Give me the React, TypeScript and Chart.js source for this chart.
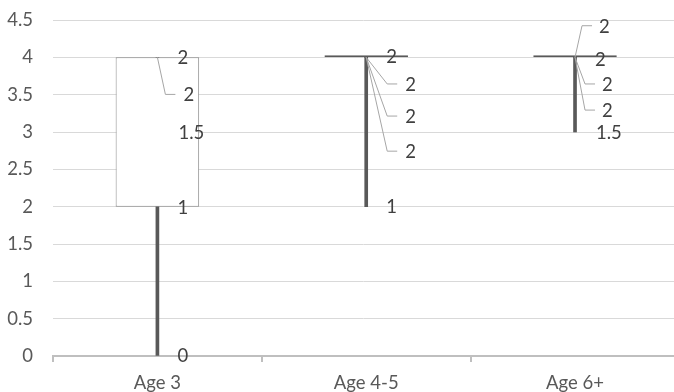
import React, { useEffect, useRef } from 'react';
import { Chart, registerables } from 'chart.js';

Chart.register(...registerables);

// ---- data ----
const categories = ['Age 3', 'Age 4-5', 'Age 6+'];
const minValues = [0, 2, 3];
const q1Values = [2, 4, 4];
const q3Values = [4, 4, 4];
const maxValues = [4, 4, 4];

const yMin = 0;
const yMax = 4.5;
const yStep = 0.5;

// data labels: category index, text, value the leader line starts from, value where label sits
const labelCategory = [0, 0, 0, 0, 0, 1, 1, 1, 1, 1, 2, 2, 2, 2, 2];
const labelText = ['0', '1', '1.5', '2', '2', '1', '2', '2', '2', '2', '1.5', '2', '2', '2', '2'];
const labelAnchor = [0, 2, 3, 4, 4, 2, 4, 4, 4, 4, 3, 4, 4, 4, 4];
const labelValue = [0, 1.98, 2.98, 3.49, 3.99, 1.99, 2.73, 3.2, 3.63, 4.0, 2.98, 3.28, 3.63, 3.97, 4.41];

// label placement (px offsets from category centre; knee = leader line bend)
const labelLayout: { dx: number; knee?: number }[] = [
  { dx: 20 }, { dx: 20 }, { dx: 21 }, { dx: 26, knee: 8 }, { dx: 20 },
  { dx: 20 }, { dx: 39, knee: 21 }, { dx: 39, knee: 21 }, { dx: 39, knee: 21 }, { dx: 20 },
  { dx: 21 }, { dx: 27, knee: 10 }, { dx: 27, knee: 10 }, { dx: 20 }, { dx: 24, knee: 7 },
];

const FONT_FAMILY = "Lato, 'Open Sans', sans-serif";
const FONT_SIZE = 18.5;
const TEXT_COLOR = '#595959';
const LABEL_COLOR = '#404040';

const labelPlugin = {
  id: 'boxLabels',
  afterDatasetsDraw(chart: any) {
    const idx = chart.data.datasets.findIndex((d: any) => d.id === 'labels');
    const meta = chart.getDatasetMeta(idx);
    const ctx = chart.ctx;
    const xs = chart.scales.x;
    const ys = chart.scales.y;
    ctx.save();
    meta.data.forEach((pt: any, i: number) => {
      const lay = labelLayout[i];
      const cx = xs.getPixelForValue(labelCategory[i]);
      const ly = pt.y;
      if (lay.knee !== undefined) {
        const ay = ys.getPixelForValue(labelAnchor[i]);
        ctx.strokeStyle = '#a6a6a6';
        ctx.lineWidth = 1;
        ctx.beginPath();
        ctx.moveTo(cx, ay);
        ctx.lineTo(cx + lay.knee, ly - 1);
        ctx.lineTo(cx + lay.knee + 10, ly - 1);
        ctx.stroke();
      }
      ctx.fillStyle = LABEL_COLOR;
      ctx.font = `${FONT_SIZE}px ${FONT_FAMILY}`;
      ctx.textAlign = 'left';
      ctx.textBaseline = 'middle';
      ctx.fillText(labelText[i], cx + lay.dx, ly);
    });
    ctx.restore();
  },
};

export default function App() {
  const canvasRef = useRef<HTMLCanvasElement | null>(null);

  useEffect(() => {
    document.body.style.margin = '0';
    const canvas = canvasRef.current!;
    const boxData = categories.map((_, i) => ({ x: i, y: [q1Values[i], q3Values[i]] }));
    const lowWhisker = categories.map((_, i) => ({ x: i, y: [minValues[i], q1Values[i]] }));
    const highWhisker = categories.map((_, i) => ({ x: i, y: [q3Values[i], maxValues[i]] }));
    const labelPoints = labelValue.map((v, i) => ({ x: labelCategory[i], y: v }));

    const chart = new Chart(canvas, {
      type: 'bar',
      data: {
        datasets: [
          {
            id: 'labels',
            type: 'scatter',
            data: labelPoints,
            pointRadius: 0,
            showLine: false,
            order: 0,
          } as any,
          {
            label: 'Box',
            data: boxData as any,
            backgroundColor: '#ffffff',
            borderColor: (c: any) =>
              q1Values[c.dataIndex] === q3Values[c.dataIndex] ? '#595959' : '#8c8c8c',
            borderWidth: 1,
            borderSkipped: false,
            minBarLength: 2,
            // tick spacing is half a category, so 0.8 of it = 0.4 of a category
            barPercentage: 0.8,
            categoryPercentage: 1,
            grouped: false,
            order: 1,
          } as any,
          {
            label: 'Low whisker',
            data: lowWhisker as any,
            backgroundColor: '#595959',
            borderWidth: 0,
            barThickness: 3,
            grouped: false,
            order: 2,
          } as any,
          {
            label: 'High whisker',
            data: highWhisker as any,
            backgroundColor: '#595959',
            borderWidth: 0,
            barThickness: 3,
            grouped: false,
            order: 2,
          } as any,
        ],
      },
      options: {
        animation: false,
        responsive: false,
        devicePixelRatio: 1,
        layout: { autoPadding: false, padding: { top: 20, right: 0, left: 0, bottom: 0 } },
        plugins: {
          legend: { display: false },
          tooltip: { enabled: false },
        },
        scales: {
          x: {
            type: 'linear',
            offset: false,
            min: -0.5,
            max: 2.474,
            afterBuildTicks: (axis: any) => {
              const t: { value: number }[] = [];
              for (let v = -0.5; v <= categories.length - 1 + 1e-9; v += 0.5) t.push({ value: v });
              axis.ticks = t;
            },
            afterFit: (axis: any) => {
              axis.height = 36;
              axis.paddingLeft = 0;
              axis.paddingRight = 0;
            },
            ticks: {
              autoSkip: false,
              maxRotation: 0,
              padding: 10,
              color: TEXT_COLOR,
              font: { family: FONT_FAMILY, size: FONT_SIZE },
              callback: (value: any) =>
                Number.isInteger(value) ? categories[value] : '',
            },
            grid: {
              offset: false,
              drawOnChartArea: false,
              drawTicks: true,
              tickLength: 6,
              lineWidth: 2,
              color: (c: any) =>
                c.tick && Number.isInteger(c.tick.value) ? 'rgba(0,0,0,0)' : '#bfbfbf',
            },
            border: { display: true, color: '#bfbfbf', width: 2 },
          },
          y: {
            min: yMin,
            max: yMax,
            afterFit: (axis: any) => {
              axis.width = 53;
              axis.paddingTop = 0;
              axis.paddingBottom = 0;
            },
            ticks: {
              stepSize: yStep,
              padding: 20,
              color: TEXT_COLOR,
              font: { family: FONT_FAMILY, size: FONT_SIZE },
              callback: (value: any) => String(value),
            },
            grid: { color: '#d9d9d9', lineWidth: 1, drawTicks: false },
            border: { display: false },
          },
        },
      } as any,
      plugins: [labelPlugin],
    });
    return () => chart.destroy();
  }, []);

  return (
    <div style={{ width: 674, height: 392 }}>
      <canvas ref={canvasRef} width={674} height={392} />
    </div>
  );
}
